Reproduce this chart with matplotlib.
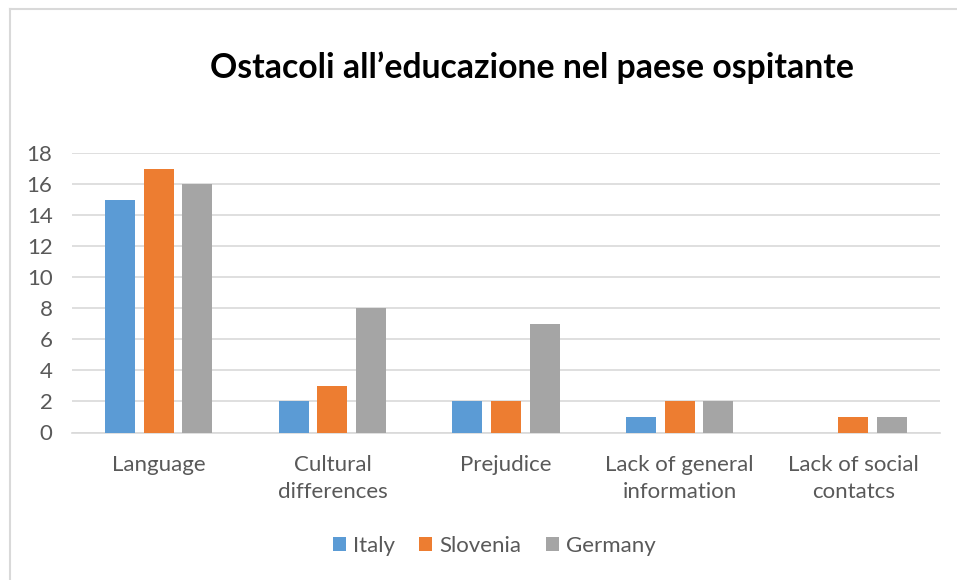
import numpy as np
import matplotlib.pyplot as plt
from matplotlib.lines import Line2D

categories = ["Language", "Cultural\ndifferences", "Prejudice",
              "Lack of general\ninformation", "Lack of social\ncontatcs"]
italy = [15, 2, 2, 1, 0]
slovenia = [17, 3, 2, 2, 1]
germany = [16, 8, 7, 2, 1]
series_names = ["Italy", "Slovenia", "Germany"]
colors = ["#5B9BD5", "#ED7D31", "#A5A5A5"]
y_ticks = [0, 2, 4, 6, 8, 10, 12, 14, 16, 18]

plt.rcParams['font.family'] = ['Lato', 'DejaVu Sans']
text_color = "#595959"
label_size = 16

fig = plt.figure(figsize=(9.57, 5.8), dpi=100)
ax = fig.add_axes([72 / 957, 1 - 432.5 / 580, 868 / 957, 279.5 / 580])

x = np.arange(len(categories))
width = 0.173
step = 0.222
for i, (vals, name, col) in enumerate(zip([italy, slovenia, germany], series_names, colors)):
    ax.bar(x + (i - 1) * step, vals, width, color=col, label=name, zorder=3)

ax.set_xlim(-0.5, len(categories) - 0.5)
ax.set_ylim(0, 18)
ax.set_yticks(y_ticks)
ax.set_xticks(x)
ax.set_xticklabels(categories, fontsize=label_size, color=text_color, linespacing=1.45)
ax.tick_params(axis='y', labelsize=label_size, labelcolor=text_color, length=0, pad=14)
ax.tick_params(axis='x', length=0, pad=16)
ax.grid(axis='y', color="#D9D9D9", linewidth=1.2, zorder=0)
for side in ['top', 'right', 'left']:
    ax.spines[side].set_visible(False)
ax.spines['bottom'].set_color("#D9D9D9")
ax.spines['bottom'].set_linewidth(1.2)

fig.text(532 / 957, 1 - 68 / 580, "Ostacoli all\u2019educazione nel paese ospitante",
         ha='center', va='center', fontsize=24.3, fontweight='bold', color='black')

ax.legend(loc='center', bbox_to_anchor=(494 / 957, 1 - 546 / 580), bbox_transform=fig.transFigure,
          ncol=3, frameon=False, fontsize=label_size, labelcolor=text_color,
          handlelength=0.6, handleheight=0.6, handletextpad=0.3, columnspacing=1.1)

# chart area border (top and left edges)
fig.add_artist(Line2D([9.5 / 957, 9.5 / 957], [0, 1 - 8.5 / 580], transform=fig.transFigure,
                      color="#D9D9D9", linewidth=1.5))
fig.add_artist(Line2D([9.5 / 957, 1], [1 - 8.5 / 580, 1 - 8.5 / 580], transform=fig.transFigure,
                      color="#D9D9D9", linewidth=1.5))

fig.savefig("out.png", dpi=100)
